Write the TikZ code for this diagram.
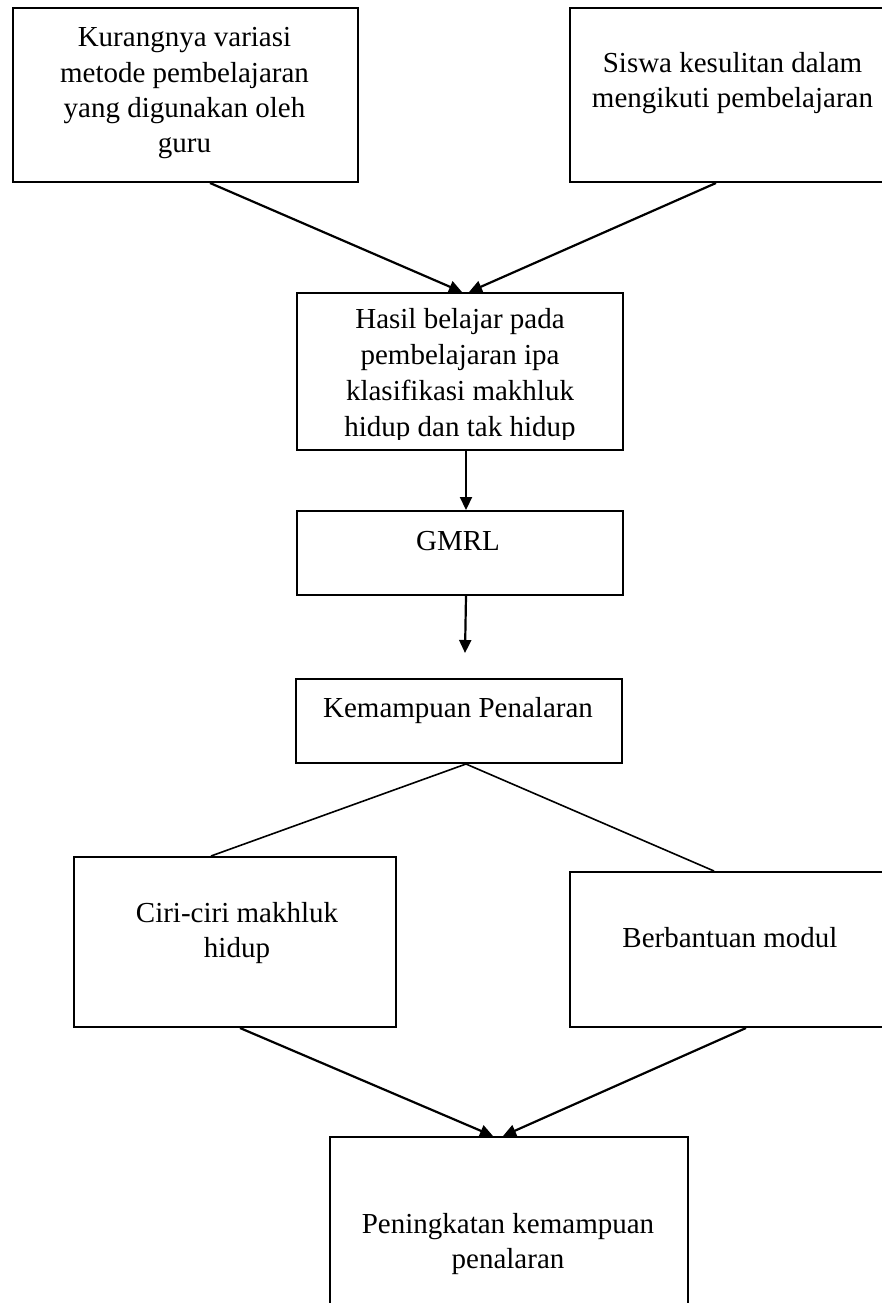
\documentclass[tikz,border=0pt]{standalone}
\usepackage{fontspec}
\setmainfont{Liberation Serif}
\usetikzlibrary{arrows.meta,calc}
\begin{document}
\begin{tikzpicture}[x=1pt,y=-1pt,
  box/.style={draw,line width=2pt,rectangle,inner sep=0pt,anchor=north west},
  lbl/.style={font=\fontsize{29}{35}\selectfont,align=center,anchor=base,inner sep=0pt},
  arr/.style={line width=2.2pt,-{Triangle[length=13pt,width=12pt]}},
  ln/.style={line width=1.6pt}]
\useasboundingbox (0,0) rectangle (882,1303);
\begin{scope}
\clip (0,0) rectangle (882,1303);
\node[box,minimum width=345pt,minimum height=174pt] (b1) at (12,7) {};
\node[box,minimum width=330pt,minimum height=174pt] (b2) at (569,7) {};
\node[box,minimum width=326pt,minimum height=157pt] (b3) at (296,292) {};
\node[box,minimum width=326pt,minimum height=84pt] (b4) at (296,510) {};
\node[box,minimum width=326pt,minimum height=84pt] (b5) at (295,678) {};
\node[box,minimum width=322pt,minimum height=170pt] (b6) at (73,856) {};
\node[box,minimum width=330pt,minimum height=155pt] (b7) at (569,871) {};
\node[box,minimum width=358pt,minimum height=194pt] (b8) at (329,1136) {};
\end{scope}
\coordinate (e1) at (465,653);
\draw[arr] ([xshift=24.5pt]b1.south) -- ([xshift=2pt]b3.north);
\draw[arr] ([xshift=-19pt]b2.south) -- ([xshift=9pt]b3.north);
\draw[arr] ([xshift=6pt]b3.south) -- ([xshift=6pt]b4.north);
\draw[arr] ([xshift=6pt]b4.south) -- (e1);
\draw[ln] ([xshift=7pt]b5.south) -- ([xshift=-24pt]b6.north);
\draw[ln] ([xshift=7pt]b5.south) -- ([xshift=-21pt]b7.north);
\draw[arr] ([xshift=5pt]b6.south) -- ([xshift=-16pt]b8.north);
\draw[arr] ([xshift=11pt]b7.south) -- ([xshift=-6pt]b8.north);
\node[lbl] (t1) at (184.5,152) {Kurangnya variasi\\metode pembelajaran\\yang digunakan oleh\\guru};
\node[lbl] (t2) at (732.5,108) {Siswa kesulitan dalam\\mengikuti pembelajaran};
\begin{scope}
\clip (296,292) rectangle (622,439);
\node[lbl,font=\fontsize{29}{36}\selectfont] (t3) at (460,436) {Hasil belajar pada\\pembelajaran ipa\\klasifikasi makhluk\\hidup dan tak hidup};
\end{scope}
\node[lbl] (t4) at (458,550) {GMRL};
\node[lbl] (t5) at (458,717) {Kemampuan Penalaran};
\node[lbl] (t6) at (237,957) {Ciri-ciri makhluk\\hidup};
\node[lbl] (t7) at (730,947) {Berbantuan modul};
\node[lbl] (t8) at (508,1268) {Peningkatan kemampuan\\penalaran};
\end{tikzpicture}
\end{document}
